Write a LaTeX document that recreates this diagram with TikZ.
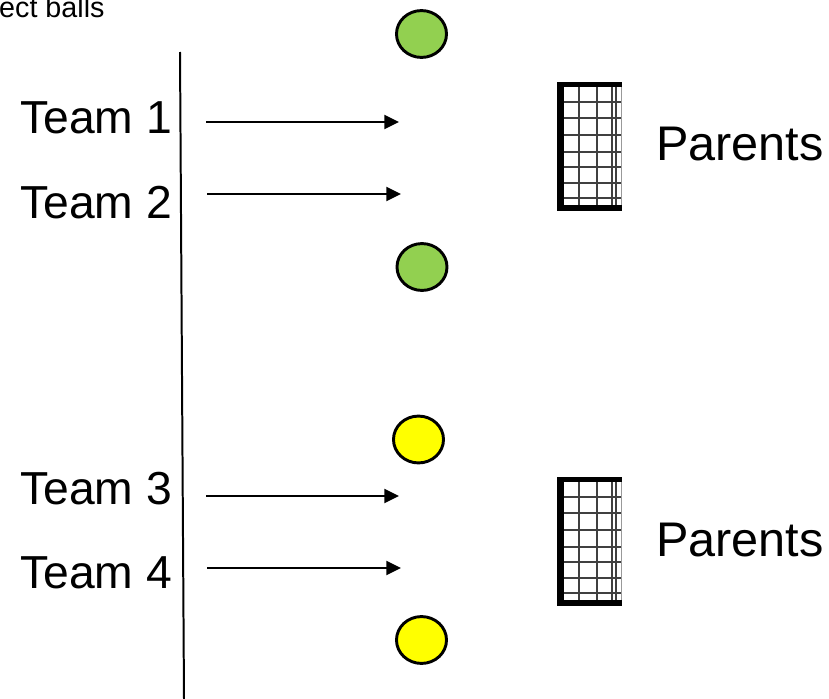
\documentclass[tikz,border=0pt]{standalone}
\usepackage{fontspec}
\setmainfont{Liberation Sans}
\usetikzlibrary{arrows.meta,shapes.geometric}
\definecolor{ballgreen}{HTML}{92D050}
\definecolor{ballyellow}{HTML}{FFFF00}
\tikzset{
  teamlabel/.style={inner sep=0pt, anchor=base west, font=\fontsize{39.5pt}{42pt}\selectfont},
  parentlabel/.style={inner sep=0pt, anchor=base west, font=\fontsize{41.5pt}{44pt}\selectfont},
  ball/.style={ellipse, draw=black, line width=2.5pt, minimum width=42.7pt, minimum height=40pt, inner sep=0pt},
  runarrow/.style={line width=1.7pt, -{Triangle[length=12.5pt,width=12pt]}},
  sideline/.style={line width=1.7pt},
  goal/.pic={
    \fill[white] (0,0) rectangle (65,129);
    \foreach \gx in {22,40,55,59} \draw[black!75, line width=1.6pt] (\gx,0) -- (\gx,129);
    \foreach \gy in {20,36,53,70,85,101,116} \draw[black!75, line width=1.6pt] (0,\gy) -- (65,\gy);
    \draw[black!40, line width=0.8pt] (64.5,0) -- (64.5,129);
    \fill[black] (0,0) rectangle (7,129);
    \fill[black] (0,0) rectangle (65,5);
    \fill[black] (0,123) rectangle (65,129);
  }
}
\begin{document}
\begin{tikzpicture}[x=0.03cm,y=-0.03cm]
\useasboundingbox (0,0) rectangle (829,699);

% top-left caption (cropped in the picture)
\node[inner sep=0pt, anchor=base west, font=\fontsize{24.5pt}{27pt}\selectfont] (caption) at (-1,17.5) {ect balls};

% vertical side line
\coordinate (lineTop) at (180,52);
\coordinate (lineBot) at (184,699);
\draw[sideline] (lineTop) -- (lineBot);

% team labels
\node[teamlabel] (t1) at (20,133) {Team 1};
\node[teamlabel] (t2) at (20,218) {Team 2};
\node[teamlabel] (t3) at (20,504) {Team 3};
\node[teamlabel] (t4) at (20,588) {Team 4};

% arrows
\coordinate (a1s) at (206,122); \coordinate (a1e) at (399,122);
\coordinate (a2s) at (207,194); \coordinate (a2e) at (401,194);
\coordinate (a3s) at (206,496); \coordinate (a3e) at (399,496);
\coordinate (a4s) at (207,568); \coordinate (a4e) at (401,568);
\draw[runarrow] (a1s) -- (a1e);
\draw[runarrow] (a2s) -- (a2e);
\draw[runarrow] (a3s) -- (a3e);
\draw[runarrow] (a4s) -- (a4e);

% balls
\node[ball, fill=ballgreen] (g1) at (421.5,34) {};
\node[ball, fill=ballgreen] (g2) at (422,267) {};
\node[ball, fill=ballyellow] (y1) at (418.5,439.5) {};
\node[ball, fill=ballyellow] (y2) at (421.5,640) {};

% goals
\pic at (557,82) {goal};
\pic at (557,477) {goal};

% parents
\node[parentlabel] (p1) at (656,160) {Parents};
\node[parentlabel] (p2) at (656,556) {Parents};
\end{tikzpicture}
\end{document}
